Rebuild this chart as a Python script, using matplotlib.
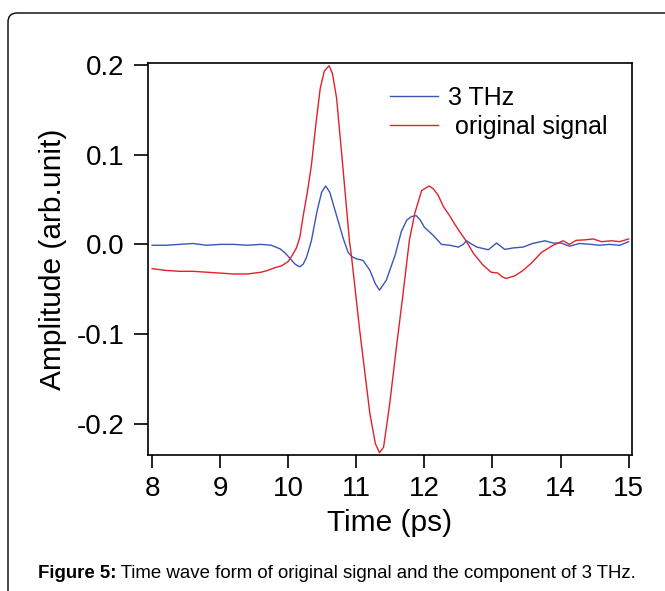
import numpy as np
import matplotlib
matplotlib.use("Agg")
from matplotlib import pyplot as plt
from matplotlib.patches import FancyBboxPatch

plt.rcParams['font.family'] = ['Liberation Sans', 'DejaVu Sans']
plt.rcParams['axes.unicode_minus'] = False

# original signal
t_orig = [8.0, 8.2, 8.4, 8.6, 8.8, 9.0, 9.2, 9.4, 9.5, 9.6, 9.7, 9.8, 9.9, 10.0,
          10.06, 10.12, 10.17, 10.22, 10.28, 10.34, 10.40, 10.47, 10.53, 10.60,
          10.65, 10.71, 10.80, 10.90, 10.93, 11.05, 11.20, 11.28, 11.34, 11.40,
          11.49, 11.58, 11.68, 11.78, 11.86, 11.96, 12.07, 12.13, 12.20, 12.28,
          12.37, 12.45, 12.52, 12.62, 12.72, 12.86, 12.98, 13.08, 13.14, 13.20,
          13.33, 13.45, 13.57, 13.72, 13.89, 14.04, 14.13, 14.23, 14.35, 14.48,
          14.60, 14.75, 14.87, 15.0]
v_orig = [-0.027, -0.029, -0.030, -0.030, -0.031, -0.032, -0.033, -0.033, -0.032,
          -0.031, -0.029, -0.026, -0.024, -0.019, -0.012, -0.004, 0.008, 0.032,
          0.058, 0.088, 0.130, 0.174, 0.193, 0.199, 0.190, 0.163, 0.088, 0.003,
          -0.014, -0.096, -0.189, -0.222, -0.232, -0.226, -0.178, -0.120, -0.059,
          0.005, 0.035, 0.060, 0.065, 0.062, 0.055, 0.042, 0.032, 0.022, 0.014,
          0.003, -0.010, -0.023, -0.031, -0.032, -0.036, -0.038, -0.035, -0.029,
          -0.021, -0.009, -0.001, 0.004, 0.000, 0.0045, 0.005, 0.006, 0.003,
          0.004, 0.003, 0.006]

# 3 THz component
t_3thz = [8.0, 8.2, 8.4, 8.6, 8.8, 9.0, 9.2, 9.4, 9.6, 9.75, 9.88, 9.96, 10.03,
          10.10, 10.17, 10.22, 10.27, 10.34, 10.42, 10.49, 10.55, 10.61, 10.71,
          10.81, 10.88, 10.94, 11.0, 11.1, 11.2, 11.28, 11.34, 11.44, 11.57,
          11.66, 11.74, 11.81, 11.88, 11.94, 12.0, 12.13, 12.25, 12.37, 12.5,
          12.57, 12.62, 12.7, 12.77, 12.94, 13.06, 13.18, 13.3, 13.45, 13.59,
          13.77, 13.89, 14.01, 14.13, 14.28, 14.45, 14.57, 14.72, 14.87, 15.0]
v_3thz = [-0.001, -0.001, 0.000, 0.001, -0.001, 0.000, 0.000, -0.001, 0.000,
          -0.001, -0.005, -0.010, -0.016, -0.022, -0.025, -0.022, -0.014, 0.004,
          0.036, 0.058, 0.065, 0.058, 0.032, 0.006, -0.009, -0.014, -0.016,
          -0.018, -0.029, -0.044, -0.051, -0.040, -0.012, 0.014, 0.027, 0.031,
          0.032, 0.027, 0.019, 0.010, 0.000, -0.001, -0.003, 0.000, 0.004, 0.000,
          -0.003, -0.006, 0.0015, -0.0056, -0.004, -0.003, 0.001, 0.004, 0.0015,
          0.0015, -0.002, 0.001, 0.000, -0.001, 0.000, -0.001, 0.003]

xticks = [8, 9, 10, 11, 12, 13, 14, 15]
yticks = [-0.2, -0.1, 0.0, 0.1, 0.2]
ytick_labels = ["-0.2", "-0.1", "0.0", "0.1", "0.2"]

fig = plt.figure(figsize=(6.65, 5.91), dpi=100)

# rounded frame around the figure (pixel coords)
frame = FancyBboxPatch((8, -30), 720, 608, boxstyle="round,pad=0,rounding_size=9",
                       transform=None, facecolor="none", edgecolor="black",
                       linewidth=1.0)
fig.patches.append(frame)

ax = fig.add_axes([0.2226, 0.2301, 0.7278, 0.6633])
ax.plot(t_3thz, v_3thz, color="#3a56b5", linewidth=1.0, label="3 THz")
ax.plot(t_orig, v_orig, color="#e3202a", linewidth=1.0, label=" original signal")

ax.set_xlim(7.94, 15.05)
ax.set_ylim(-0.2346, 0.202)
ax.set_xticks(xticks)
ax.set_yticks(yticks)
ax.set_yticklabels(ytick_labels)
ax.tick_params(axis="x", direction="out", length=9, width=1.2, pad=6, labelsize=20)
ax.tick_params(axis="y", direction="out", length=10, width=1.2, pad=7, labelsize=20)
for s in ax.spines.values():
    s.set_linewidth(1.2)

ax.set_xlabel("Time (ps)", fontsize=21.5, labelpad=5.5)
ax.set_ylabel("Amplitude (arb.unit)", fontsize=21.5, labelpad=7)

ax.legend(loc="upper left", bbox_to_anchor=(0.5, 0.942), frameon=False,
          fontsize=18, handlelength=1.9, handletextpad=0.4, labelspacing=0.22,
          borderpad=0, borderaxespad=0)

# caption: bold label followed by normal text
t1 = fig.text(0.057, 0.022, "Figure 5:", fontsize=13.4, fontweight="bold")
ax.annotate(" Time wave form of original signal and the component of 3 THz.",
            xy=(1, 0), xycoords=t1, fontsize=13.4, va="bottom", ha="left",
            annotation_clip=False)

fig.savefig("out.png", dpi=100)
